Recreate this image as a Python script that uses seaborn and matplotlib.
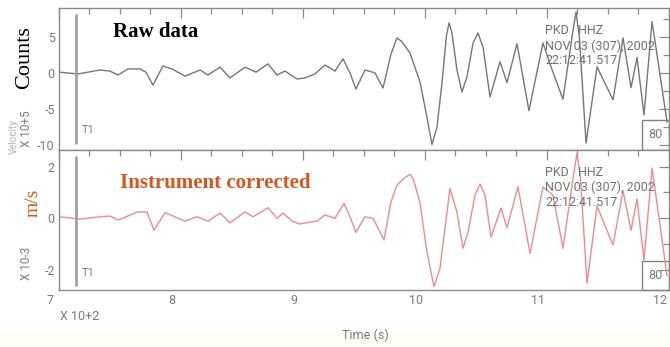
import matplotlib
matplotlib.use("Agg")
import matplotlib.pyplot as plt
import matplotlib.transforms as mtransforms
from matplotlib.ticker import MultipleLocator, FuncFormatter
from matplotlib.patches import Rectangle
import seaborn as sns
import pandas as pd

# ---------------- data ----------------
raw_time = [700.0, 715.6, 733.6, 741.8, 748.4, 756.6, 766.4, 771.3, 777.0, 785.2,
            792.6, 803.3, 815.6, 822.1, 832.0, 840.2, 852.5, 861.5, 871.3, 878.7,
            885.2, 895.1, 901.6, 909.8, 918.0, 926.2, 932.8, 938.5, 943.4, 950.8,
            959.0, 965.6, 972.0, 977.0, 981.0, 987.7, 995.9, 1001.6, 1005.7, 1009.8,
            1013.9, 1017.5, 1019.7, 1022.1, 1026.2, 1030.3, 1034.4, 1039.4, 1043.4, 1047.6,
            1053.3, 1061.5, 1067.2, 1075.4, 1085.2, 1096.7, 1104.1, 1113.1, 1121.0, 1123.8,
            1126.5, 1132.0, 1141.0, 1154.1, 1162.3, 1168.9, 1173.8, 1179.5, 1186.1, 1198.4]
raw_counts = [0.05, -0.2, 0.35, 0.2, -0.35, 0.5, 0.5, 0.05, -1.75, 0.9,
              0.5, -0.5, 0.35, -0.35, 0.75, -0.75, 0.75, 0.05, 1.2, -0.35,
              0.2, -0.9, -0.75, -0.2, 1.05, 0.2, 1.9, -0.05, -2.3, 0.35,
              -0.05, -2.15, 2.5, 4.8, 4.3, 2.7, -1.3, -6.2, -10.0, -7.6,
              -1.5, 5.0, 6.9, 5.5, 0.35, -2.7, -0.6, 4.1, 5.5, 3.5,
              -3.4, 1.5, -1.4, 4.0, -5.3, 4.1, 0.4, -3.7, 5.5, 8.4,
              5.0, -9.8, 0.8, -3.8, 4.8, -2.1, 2.1, -5.9, 7.1, -6.9]

cor_time = [700.0, 717.2, 733.6, 741.8, 748.4, 763.9, 772.1, 777.9, 786.9, 793.4,
            803.3, 813.1, 822.1, 832.0, 840.2, 852.5, 859.0, 871.3, 878.7, 883.6,
            891.8, 897.5, 907.4, 911.5, 918.0, 926.2, 933.6, 938.5, 943.4, 950.8,
            957.4, 966.4, 972.0, 977.0, 983.0, 987.7, 990.5, 995.9, 1001.6, 1007.4,
            1012.3, 1016.4, 1020.5, 1026.2, 1031.1, 1035.3, 1041.0, 1045.1, 1049.2, 1054.1,
            1062.3, 1067.2, 1076.2, 1086.1, 1096.7, 1104.9, 1113.1, 1121.5, 1124.6, 1127.5,
            1132.8, 1141.0, 1154.1, 1162.3, 1168.9, 1173.8, 1179.5, 1186.1, 1198.4]
cor_velocity = [0.05, -0.04, 0.05, 0.08, -0.08, 0.23, 0.24, -0.47, 0.21, 0.08,
                -0.12, 0.05, -0.12, 0.19, -0.18, 0.24, 0.05, 0.4, -0.01, 0.19,
                -0.14, -0.23, -0.14, -0.12, 0.12, -0.01, 0.57, 0.05, -0.55, 0.05,
                -0.01, -0.85, 0.6, 1.28, 1.55, 1.7, 1.5, 0.6, -1.32, -2.66,
                -1.94, -0.39, 1.15, 0.23, -1.17, -0.54, 0.89, 1.32, 0.89, -0.74,
                0.39, -0.37, 1.21, -1.37, 1.21, 0.89, -1.17, 1.6, 2.51, 1.5,
                -2.53, 0.47, -1.05, 1.05, -0.47, 0.74, -1.63, 1.94, -2.25]

header_lines = ["PKD   HHZ", "NOV 03 (307), 2002", "22:12:41.517"]

# ---------------- styling ----------------
sns.set_style("white")
plt.rcParams['font.family'] = ['Roboto', 'DejaVu Sans']

W, H = 670, 347
fig = plt.figure(figsize=(W / 100, H / 100), dpi=100)
fig.patch.set_facecolor("white")
fig.patches.append(Rectangle((0, 0), 1, 14 / H, transform=fig.transFigure,
                             facecolor="#fdfef6", edgecolor="none", zorder=-5))

L = 59 / W
AW = (669 - 59) / W
ax1 = fig.add_axes([L, (H - 150) / H, AW, 142 / H])
ax2 = fig.add_axes([L, (H - 290) / H, AW, 140 / H])

GRAY = "#8a8a8a"
TXT = "#7a7a7a"

df_raw = pd.DataFrame({"t": raw_time, "v": raw_counts})
df_cor = pd.DataFrame({"t": cor_time, "v": cor_velocity})

sns.lineplot(data=df_raw, x="t", y="v", ax=ax1, color="#767676", lw=1.0,
             estimator=None, sort=False)
sns.lineplot(data=df_cor, x="t", y="v", ax=ax2, color="#ef8a90", lw=1.0,
             estimator=None, sort=False)

ax1.set_ylim(-10.76, 8.96)
ax2.set_ylim(-2.79, 2.64)

int_fmt = FuncFormatter(lambda v, p: "%d" % round(v))
for ax, ymaj, ymin in [(ax1, 5, 2.5), (ax2, 2, 1)]:
    ax.set_xlim(700, 1200)
    ax.xaxis.set_major_locator(MultipleLocator(100))
    ax.xaxis.set_minor_locator(MultipleLocator(25))
    ax.yaxis.set_major_locator(MultipleLocator(ymaj))
    ax.yaxis.set_minor_locator(MultipleLocator(ymin))
    ax.yaxis.set_major_formatter(int_fmt)
    ax.tick_params(which="both", direction="in", top=True, right=True,
                   color=GRAY, width=0.9, labelcolor=TXT, labelsize=9, pad=3)
    ax.tick_params(which="major", length=7)
    ax.tick_params(which="minor", length=4)
    for s in ax.spines.values():
        s.set_color(GRAY)
        s.set_linewidth(1.0)
    ax.set_xlabel("")
    ax.set_ylabel("")
    ax.set_facecolor("white")

ax1.tick_params(labelbottom=False)
ax2.xaxis.set_major_formatter(FuncFormatter(lambda v, p: "%d" % round(v / 100)))
shift = mtransforms.ScaledTranslation(-9 / 100, 0, fig.dpi_scale_trans)
for lab in ax2.get_xticklabels():
    lab.set_transform(lab.get_transform() + shift)

# T1 markers
t1 = 714
ax1.axvline(t1, ymin=0.05, ymax=0.95, color="#a0a0a0", lw=2)
ax2.axvline(t1, ymin=0.036, ymax=0.95, color="#a0a0a0", lw=2)
for ty in (130, 273):
    fig.text(82 / W, 1 - ty / H, "T1", fontsize=8, color=TXT, va="center", ha="left")

# station header
for top in (31, 172):
    for i, line in enumerate(header_lines):
        fig.text(545 / W, 1 - (top + 15 * i) / H, line, fontsize=9, color="#707070",
                 va="center", ha="left")

# "80" boxes
for ax, frac in [(ax1, 30 / 142), (ax2, 29 / 140)]:
    ax.add_patch(Rectangle((0.956, 0), 0.044, frac, transform=ax.transAxes,
                           fill=False, edgecolor="#808080", lw=1.0, clip_on=False))
    ax.text(0.978, frac / 2, "80", transform=ax.transAxes, fontsize=9,
            color=TXT, ha="center", va="center")

# axis annotations
fig.text(14 / W, 1 - 137 / H, "Velocity", rotation=90, fontsize=7, color="#b0b0b0",
         ha="center", va="center")
fig.text(26 / W, 1 - 129 / H, "X 10+5", rotation=90, fontsize=8.5, color=TXT,
         ha="center", va="center")
fig.text(26 / W, 1 - 263 / H, "X 10-3", rotation=90, fontsize=8.5, color=TXT,
         ha="center", va="center")
fig.text(60 / W, 1 - 316 / H, "X 10+2", fontsize=9, color=TXT, ha="left", va="center")
fig.text(365 / W, 1 - 335 / H, "Time (s)", fontsize=9, color=TXT, ha="center", va="center")

# overlay labels
fig.text(25 / W, 1 - 58 / H, "Counts", rotation=90, fontsize=16, color="black",
         family="Liberation Serif", ha="center", va="center")
fig.text(33 / W, 1 - 203 / H, "m/s", rotation=90, fontsize=14, color="#d9541e",
         family="Liberation Serif", ha="center", va="center")
fig.text(113 / W, 1 - 32 / H, "Raw data", fontsize=15, fontweight="bold", color="black",
         family="Liberation Serif", ha="left", va="center")
fig.text(120 / W, 1 - 183 / H, "Instrument corrected", fontsize=15, fontweight="bold",
         color="#d9541e", family="Liberation Serif", ha="left", va="center")

fig.savefig("out.png", dpi=100)
